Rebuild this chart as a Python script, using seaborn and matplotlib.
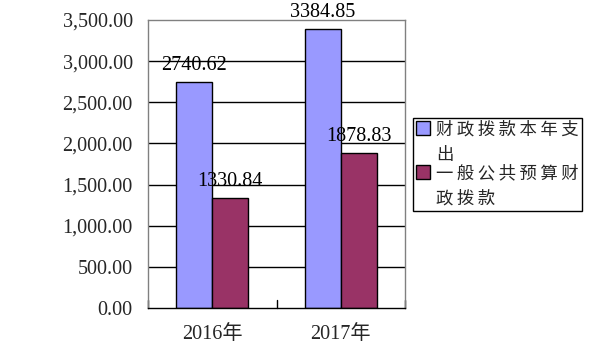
import matplotlib
matplotlib.use("Agg")
import matplotlib.pyplot as plt
import seaborn as sns
import pandas as pd
from matplotlib.ticker import FuncFormatter, MultipleLocator

categories = ["2016年", "2017年"]
series_names = ["财政拨款本年支\n出", "一般公共预算财\n政拨款"]
series1 = [2740.62, 3384.85]
series2 = [1330.84, 1878.83]
colors = ["#9999FF", "#993366"]

sns.set_theme(style="white")
plt.rcParams["font.family"] = ["Liberation Serif", "Noto Sans CJK SC", "DejaVu Sans"]

rows = []
for c, v in zip(categories, series1):
    rows.append({"cat": c, "series": series_names[0], "value": v})
for c, v in zip(categories, series2):
    rows.append({"cat": c, "series": series_names[1], "value": v})
df = pd.DataFrame(rows)

fig = plt.figure(figsize=(6.03, 3.57), dpi=100)
ax = fig.add_axes([148/603, 1-308/357, (405-148)/603, (308-20)/357])

sns.barplot(data=df, x="cat", y="value", hue="series", order=categories,
            hue_order=series_names, palette=colors, width=0.56,
            edgecolor="black", linewidth=1, saturation=1, ax=ax, legend=True)

ax.set_xlim(-0.5, 1.5)
ax.set_ylim(0, 3500)
ax.yaxis.set_major_locator(MultipleLocator(500))
ax.yaxis.set_major_formatter(FuncFormatter(lambda v, p: f"{v:,.2f}"))
for yv in range(500, 3500, 500):
    ax.axhline(yv, color="black", lw=1, zorder=0)
ax.set_xlabel("")
ax.set_ylabel("")
ax.tick_params(axis="y", length=0, labelsize=14.5, pad=11)
ax.tick_params(axis="x", length=0, labelsize=14.5, pad=12)
ax.set_xticks([0, 1])
ax.set_xticklabels(categories)
for xb in [-0.5, 0.5, 1.5]:
    ax.plot([xb, xb], [0, 0.028], transform=ax.get_xaxis_transform(),
            color="black", lw=1, clip_on=False)
for s in ["left", "top", "right"]:
    ax.spines[s].set_color("#808080")
    ax.spines[s].set_linewidth(1)
ax.spines["bottom"].set_color("black")
ax.spines["bottom"].set_linewidth(1)

for cont in ax.containers:
    for bar in cont:
        h = bar.get_height()
        ax.annotate(f"{h:.2f}", (bar.get_x() + bar.get_width()/2, h),
                    xytext=(0, 9), textcoords="offset points",
                    ha="center", va="baseline", fontsize=14.5, color="black",
                    annotation_clip=False)

handles, _ = ax.get_legend_handles_labels()
ax.get_legend().remove()
spaced = ["\u2009".join(list(s)).replace("\u2009\n\u2009", "\n") for s in series_names]
leg = fig.legend(handles, spaced, loc="upper left",
                 bbox_to_anchor=(413/603, 1-118/357), bbox_transform=fig.transFigure,
                 frameon=True, fancybox=False, edgecolor="black", framealpha=1,
                 prop={"family": ["Noto Sans CJK SC", "DejaVu Sans"], "size": 12.5},
                 handlelength=0.85, handleheight=0.85, handletextpad=0.35,
                 borderpad=0.15, labelspacing=0.0, borderaxespad=0)
leg.get_frame().set_linewidth(1)
for t in leg.get_texts():
    t.set_linespacing(1.55)
for h in leg.legend_handles:
    h.set_y(h.get_y() + 11)
    h.set_edgecolor("black")
    h.set_linewidth(1)

fig.savefig("out.png", dpi=100)
